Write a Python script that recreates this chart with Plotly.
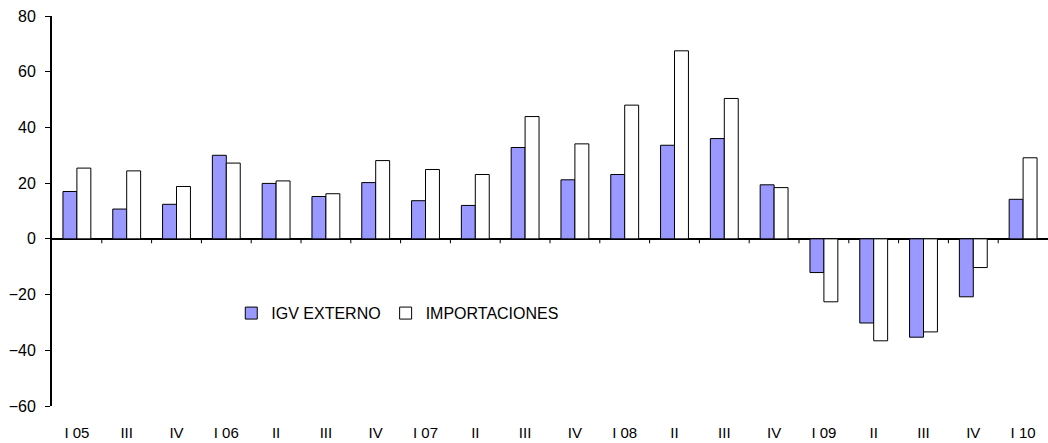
import plotly.graph_objects as go

categories = ["I 05", "III", "IV", "I 06", "II", "III", "IV", "I 07", "II", "III",
              "IV", "I 08", "II", "III", "IV", "I 09", "II", "III", "IV", "I 10"]
igv_externo = [17.0, 10.7, 12.4, 30.0, 19.9, 15.2, 20.2, 13.7, 12.0, 32.8,
               21.2, 23.1, 33.6, 36.0, 19.4, -12.1, -30.2, -35.3, -20.8, 14.2]
importaciones = [25.4, 24.4, 18.8, 27.2, 20.8, 16.2, 28.1, 24.9, 23.1, 43.9,
                 34.1, 48.0, 67.5, 50.4, 18.4, -22.6, -36.6, -33.4, -10.3, 29.1]

x_idx = list(range(len(categories)))

fig = go.Figure()
fig.add_trace(go.Bar(x=x_idx, y=igv_externo, name="IGV EXTERNO",
                     marker=dict(color="#9999FF", line=dict(color="#000000", width=1))))
fig.add_trace(go.Bar(x=x_idx, y=importaciones, name="IMPORTACIONES",
                     marker=dict(color="#FFFFFF", line=dict(color="#000000", width=1))))

# small tick marks at category boundaries below the zero line
shapes = []
for i in range(1, len(categories)):
    shapes.append(dict(type="line", xref="x", yref="y", x0=i - 0.5, x1=i - 0.5,
                       y0=0, y1=-1.6, line=dict(color="#000000", width=1)))

fig.update_layout(
    width=1048, height=443,
    margin=dict(l=52, r=0, t=16, b=37, autoexpand=False),
    paper_bgcolor="white", plot_bgcolor="white",
    font=dict(family="Liberation Sans, Arial, sans-serif", size=16, color="#000000"),
    barmode="group", bargap=0.44, bargroupgap=0,
    showlegend=True,
    legend=dict(orientation="h", x=0.18, y=0.238, xanchor="left", yanchor="middle",
                bgcolor="rgba(0,0,0,0)", font=dict(size=16), itemwidth=30),
    shapes=shapes,
)
fig.update_xaxes(tickmode="array", tickvals=x_idx, ticktext=categories,
                 range=[-0.5, len(categories) - 0.5], showline=False, showgrid=False,
                 zeroline=False, ticks="", ticklabelstandoff=16,
                 tickfont=dict(size=15))
fig.update_yaxes(range=[-60, 80], dtick=20, showgrid=False, showline=True,
                 linecolor="#000000", linewidth=2, ticks="outside", ticklen=5,
                 tickcolor="#000000", zeroline=True, zerolinecolor="#000000",
                 zerolinewidth=2, tickfont=dict(size=16), ticklabelstandoff=6)

fig.write_html("out.html", config={"displayModeBar": False},
               post_script="document.body.style.margin='0';")
